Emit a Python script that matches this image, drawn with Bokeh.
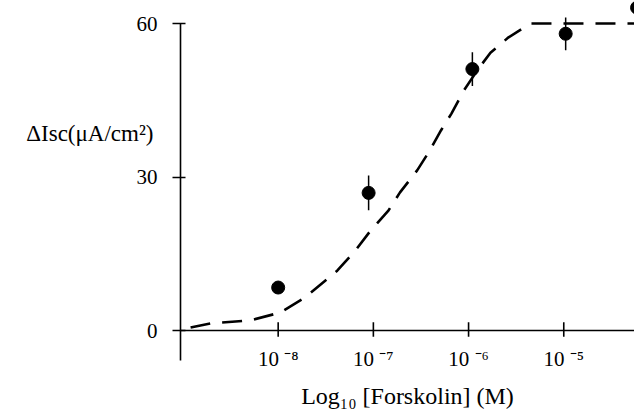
from bokeh.plotting import figure
from bokeh.models import Range1d, Span, FixedTicker, LinearAxis
from bokeh.embed import file_html
from bokeh.resources import INLINE

# Data (log10 molar forskolin concentration vs. delta Isc)
log_conc = [-8.0, -7.05, -5.96, -4.98, -4.23]
delta_isc = [8.4, 26.9, 51.1, 58.0, 63.1]
sem = [0.0, 3.4, 3.3, 3.2, 0.0]

fit_log_conc = [-8.92, -8.71, -8.29, -7.98, -7.73, -7.38, -7.19, -7.03, -6.84, -6.72,
                -6.54, -6.42, -6.29, -6.18, -6.05, -5.91, -5.77, -5.58, -5.35, -4.26]
fit_isc = [0.6, 1.4, 2.0, 3.5, 6.3, 11.7, 15.6, 19.5, 23.5, 27.0,
           31.3, 34.8, 39.1, 42.4, 46.9, 50.8, 54.3, 57.3, 60.0, 60.0]

x_ticks = [-8, -7, -6, -5]
x_tick_labels = ["10 \u207b\u2078", "10 \u207b\u2077", "10 \u207b\u2076", "10 \u207b\u2075"]
y_ticks = [0, 30, 60]
y_title = "\u0394Isc(\u03bcA/cm\u00b2)"

FONT = "Liberation Serif"

p = figure(width=634, height=416,
           x_range=Range1d(-9.026, -4.257), y_range=Range1d(-5.86, 64.5),
           output_backend="svg", toolbar_location=None,
           min_border_left=180, min_border_right=0, min_border_top=0, min_border_bottom=56)
p.grid.visible = False
p.outline_line_color = None
p.background_fill_color = "white"
p.border_fill_color = "white"

# left axis
ya = p.yaxis[0]
ya.ticker = FixedTicker(ticks=y_ticks)
ya.bounds = (-5.86, 60)
ya.axis_line_width = 1.6
ya.axis_line_color = "black"
ya.major_tick_in = 5
ya.major_tick_out = 8
ya.major_tick_line_width = 1.6
ya.minor_tick_line_color = None
ya.major_label_standoff = 15
ya.major_label_text_font = FONT
ya.major_label_text_font_size = "21px"
ya.major_label_text_color = "black"

# y-axis title: carried by a bare extra left axis so that it sits horizontally beside the axis
# (trailing blank lines lift the single visible line above the frame's middle)
title_axis = LinearAxis(ticker=FixedTicker(ticks=[]),
                        axis_line_color=None, major_tick_line_color=None,
                        minor_tick_line_color=None,
                        axis_label=y_title + "\n \n \n \n ",
                        axis_label_orientation="horizontal",
                        axis_label_text_font=FONT, axis_label_text_font_size="23px",
                        axis_label_text_font_style="normal", axis_label_text_color="black",
                        axis_label_text_line_height=0.94,
                        axis_label_standoff=-20)
p.add_layout(title_axis, "left")

# bottom axis (labels only)
xa = p.xaxis[0]
xa.ticker = FixedTicker(ticks=x_ticks)
xa.major_label_overrides = {t: l for t, l in zip(x_ticks, x_tick_labels)}
xa.axis_line_color = None
xa.major_tick_line_color = None
xa.minor_tick_line_color = None
xa.major_label_standoff = -20
xa.major_label_text_font = FONT
xa.major_label_text_font_size = "21px"
xa.major_label_text_color = "black"
xa.axis_label = "Log\u2081\u2080 [Forskolin] (M)"
xa.axis_label_text_font = FONT
xa.axis_label_text_font_size = "24px"
xa.axis_label_text_font_style = "normal"
xa.axis_label_text_color = "black"
xa.axis_label_standoff = 9

# x axis line at zero and its ticks
p.add_layout(Span(location=0, dimension="width", line_color="black", line_width=1.6))
p.segment(x0=x_ticks, y0=[-1.2] * len(x_ticks), x1=x_ticks, y1=[1.6] * len(x_ticks),
          line_color="black", line_width=1.6)

# fitted curve
p.line(fit_log_conc, fit_isc, line_color="black", line_width=2.6, line_dash="20 12")

# error bars and points
lower = [v - e for v, e in zip(delta_isc, sem)]
upper = [v + e for v, e in zip(delta_isc, sem)]
p.segment(x0=log_conc, y0=lower, x1=log_conc, y1=upper, line_color="black", line_width=1.5)
p.scatter(log_conc, delta_isc, size=13, color="black")

open("out.html", "w").write(file_html(p, INLINE))
